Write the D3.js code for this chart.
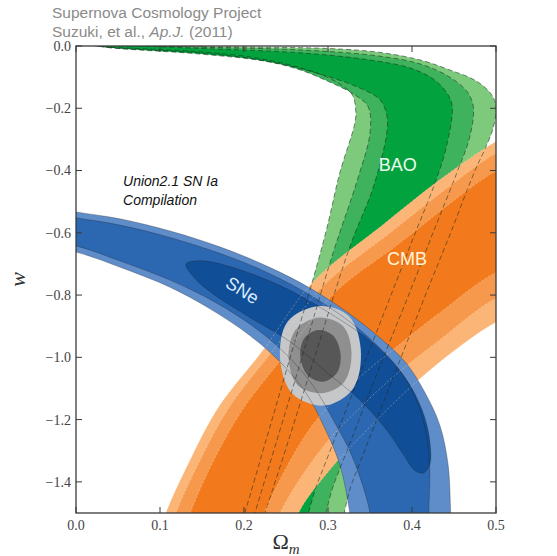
<!DOCTYPE html>
<html>
<head>
<meta charset="utf-8">
<script src="https://cdn.jsdelivr.net/npm/d3@7"></script>
<style>
  html, body { margin: 0; padding: 0; background: #fff; }
  svg { display: block; }
</style>
</head>
<body>
<svg id="chart" width="557" height="556"></svg>
<script>
// Confidence contours in the (Omega_m, w) plane, each a closed outline of [Omega_m, w] points.
// BAO bands (99.7%, 95%, 68%): upper/right edge first, then lower/left edge back up.
const bao997 = [[0.015,0.004],[0.15,-0.002],[0.30,-0.008],[0.36,-0.02],[0.41,-0.045],[0.445,-0.077],[0.475,-0.11],[0.493,-0.15],[0.5,-0.19],[0.497,-0.26],[0.487,-0.33],[0.475,-0.40],[0.446,-0.6],[0.416,-0.8],[0.387,-1.0],[0.358,-1.2],[0.329,-1.4],[0.300,-1.6],
  [0.19,-1.6],[0.201,-1.5],[0.228,-1.25],[0.255,-1.0],[0.282,-0.751],[0.299,-0.581],[0.314,-0.408],[0.332,-0.247],[0.333,-0.206],[0.329,-0.157],[0.314,-0.122],[0.290,-0.090],[0.255,-0.061],[0.207,-0.035],[0.148,-0.019],[0.088,-0.01],[0.03,-0.002]];
const bao95 = [[0.02,0.004],[0.15,-0.004],[0.27,-0.013],[0.36,-0.032],[0.41,-0.058],[0.445,-0.1],[0.466,-0.148],[0.473,-0.196],[0.469,-0.29],[0.453,-0.41],[0.425,-0.6],[0.396,-0.8],[0.366,-1.0],[0.337,-1.2],[0.308,-1.4],[0.278,-1.6],
  [0.202,-1.6],[0.213,-1.5],[0.241,-1.25],[0.269,-1.0],[0.306,-0.665],[0.335,-0.43],[0.35,-0.279],[0.348,-0.196],[0.332,-0.157],[0.302,-0.116],[0.267,-0.077],[0.219,-0.045],[0.148,-0.022],[0.035,-0.004]];
const bao68 = [[0.025,0.003],[0.15,-0.008],[0.267,-0.022],[0.35,-0.045],[0.398,-0.071],[0.427,-0.109],[0.443,-0.157],[0.448,-0.196],[0.44,-0.334],[0.426,-0.45],[0.404,-0.6],[0.375,-0.8],[0.346,-1.0],[0.317,-1.2],[0.288,-1.4],[0.258,-1.6],
  [0.213,-1.6],[0.225,-1.5],[0.255,-1.25],[0.284,-1.0],[0.326,-0.645],[0.354,-0.453],[0.370,-0.279],[0.370,-0.222],[0.362,-0.173],[0.338,-0.135],[0.290,-0.09],[0.231,-0.051],[0.148,-0.026],[0.04,-0.005]];

// CMB bands: upper-left edge from the bottom up to the right, then lower-right edge back down.
const cmb997 = [[0.095,-1.6],[0.107,-1.5],[0.136,-1.329],[0.170,-1.159],[0.223,-0.976],[0.282,-0.758],[0.365,-0.575],[0.433,-0.43],[0.501,-0.305],[0.54,-0.255],
  [0.54,-0.85],[0.501,-0.886],[0.433,-1.015],[0.386,-1.127],[0.344,-1.240],[0.302,-1.362],[0.265,-1.5],[0.255,-1.6]];
const cmb95 = [[0.107,-1.6],[0.119,-1.5],[0.148,-1.329],[0.182,-1.162],[0.233,-0.983],[0.293,-0.774],[0.374,-0.6],[0.440,-0.46],[0.501,-0.343],[0.54,-0.30],
  [0.54,-0.78],[0.501,-0.809],[0.433,-0.944],[0.383,-1.05],[0.338,-1.162],[0.293,-1.291],[0.243,-1.5],[0.232,-1.6]];
const cmb68 = [[0.124,-1.6],[0.136,-1.5],[0.163,-1.336],[0.198,-1.169],[0.249,-0.992],[0.308,-0.793],[0.386,-0.632],[0.448,-0.50],[0.501,-0.40],[0.54,-0.36],
  [0.54,-0.70],[0.501,-0.726],[0.433,-0.857],[0.380,-0.970],[0.326,-1.092],[0.279,-1.227],[0.224,-1.5],[0.212,-1.6]];

// Union2.1 supernova bands: upper edge left to right, then lower edge back.
const sne997 = [[-0.05,-0.51],[0,-0.533],[0.052,-0.555],[0.113,-0.595],[0.171,-0.645],[0.219,-0.697],[0.267,-0.76],[0.314,-0.838],[0.355,-0.922],[0.392,-1.015],[0.415,-1.111],[0.433,-1.217],[0.443,-1.345],[0.446,-1.5],[0.447,-1.6],
  [0.33,-1.6],[0.326,-1.5],[0.314,-1.345],[0.296,-1.227],[0.273,-1.111],[0.243,-1.015],[0.207,-0.93],[0.160,-0.845],[0.112,-0.775],[0.052,-0.71],[0,-0.662],[-0.05,-0.64]];
const sne95 = [[-0.05,-0.53],[0,-0.552],[0.052,-0.575],[0.113,-0.616],[0.171,-0.666],[0.219,-0.717],[0.267,-0.782],[0.314,-0.862],[0.352,-0.945],[0.385,-1.04],[0.404,-1.13],[0.416,-1.23],[0.421,-1.35],[0.42,-1.5],[0.42,-1.6],
  [0.352,-1.6],[0.35,-1.5],[0.329,-1.32],[0.306,-1.2],[0.282,-1.09],[0.25,-0.99],[0.213,-0.905],[0.165,-0.822],[0.112,-0.752],[0.052,-0.69],[0,-0.642],[-0.05,-0.62]];
const sne68 = [[0.131,-0.7],[0.15,-0.69],[0.185,-0.71],[0.245,-0.772],[0.302,-0.858],[0.356,-0.96],[0.392,-1.066],[0.412,-1.169],[0.421,-1.265],[0.421,-1.345],[0.413,-1.372],[0.402,-1.36],[0.39,-1.313],[0.368,-1.227],[0.338,-1.137],[0.302,-1.056],[0.255,-0.95],[0.207,-0.872],[0.165,-0.8],[0.141,-0.745]];

// Combined SNe + BAO + CMB constraint.
const comb997 = [[0.29,-0.835],[0.325,-0.868],[0.339,-0.975],[0.33,-1.1],[0.296,-1.155],[0.258,-1.118],[0.243,-1.005],[0.252,-0.885]];
const comb95 = [[0.29,-0.872],[0.318,-0.9],[0.328,-0.985],[0.319,-1.08],[0.293,-1.115],[0.264,-1.09],[0.253,-1.0],[0.262,-0.91]];
const comb68 = [[0.288,-0.912],[0.306,-0.93],[0.315,-0.99],[0.311,-1.048],[0.295,-1.078],[0.276,-1.058],[0.267,-0.996],[0.272,-0.938]];

// Axis ticks and annotations.
const xTicks = [0.0, 0.1, 0.2, 0.3, 0.4, 0.5];
const yTicks = [0.0, -0.2, -0.4, -0.6, -0.8, -1.0, -1.2, -1.4];
const titleLines = ["Supernova Cosmology Project", "Suzuki, et al., ", "Ap.J.", " (2011)"];
const bandLabels = [
  {text: "BAO", om: 0.383, w: -0.382, fill: "#eefcee", angle: 0},
  {text: "CMB", om: 0.394, w: -0.685, fill: "#fff3d6", angle: 0},
  {text: "SNe", om: 0.198, w: -0.785, fill: "#dcecff", angle: 32}
];
const compilationLabel = ["Union2.1 SN Ia", "Compilation"];

const svg = d3.select("#chart");
const x = d3.scaleLinear().domain([0, 0.5]).range([76, 496]);
const y = d3.scaleLinear().domain([-1.5, 0]).range([513, 46]);

svg.append("defs").append("clipPath").attr("id", "plotClip")
  .append("rect").attr("x", x(0)).attr("y", y(0))
  .attr("width", x(0.5) - x(0)).attr("height", y(-1.5) - y(0));

const closed = d3.line().x(d => x(d[0])).y(d => y(d[1])).curve(d3.curveCatmullRomClosed.alpha(0.5));

const plot = svg.append("g").attr("clip-path", "url(#plotClip)");

const layers = [
  {name: "bao", shapes: [bao997, bao95, bao68], colors: ["#7dca7d", "#3eb25c", "#02a23e"]},
  {name: "cmb", shapes: [cmb997, cmb95, cmb68], colors: ["#fbb577", "#f6994c", "#f27a1c"]},
  {name: "sne", shapes: [sne997, sne95, sne68], colors: ["#5e8dca", "#2c67b1", "#104e98"]},
  {name: "comb", shapes: [comb997, comb95, comb68], colors: ["#c6c7c9", "#8f8f90", "#575757"]}
];

layers.forEach(L => {
  const g = plot.append("g").attr("class", L.name);
  L.shapes.forEach((s, i) => {
    g.append("path").attr("d", closed(s)).attr("fill", L.colors[i]).attr("stroke", "none");
  });
});

// Contour outlines drawn over the filled regions
const outl = plot.append("g").attr("class", "outlines");
[bao997, bao95, bao68].forEach(s => {
  outl.append("path").attr("d", closed(s)).attr("fill", "none")
    .attr("stroke", "#1e2a1e").attr("stroke-width", 1).attr("stroke-dasharray", "5,3")
    .attr("stroke-opacity", 0.55);
});
[sne997, sne95, sne68].forEach(s => {
  outl.append("path").attr("d", closed(s)).attr("fill", "none")
    .attr("stroke", "#222").attr("stroke-width", 0.7).attr("stroke-opacity", 0.45);
});
[cmb997, cmb95, cmb68].forEach(s => {
  outl.append("path").attr("d", closed(s)).attr("fill", "none")
    .attr("stroke", "#ffe2c0").attr("stroke-width", 0.8).attr("stroke-dasharray", "2,2")
    .attr("stroke-opacity", 0.45);
});

// Band labels
bandLabels.forEach(b => {
  svg.append("text")
    .attr("transform", `translate(${x(b.om)},${y(b.w)}) rotate(${b.angle})`)
    .attr("text-anchor", "middle").attr("dominant-baseline", "central")
    .attr("font-family", "Liberation Sans, Arial, sans-serif").attr("font-size", 18)
    .attr("fill", b.fill).text(b.text);
});

const comp = svg.append("text")
  .attr("font-family", "Liberation Sans, Arial, sans-serif").attr("font-size", 14)
  .attr("font-style", "italic").attr("fill", "#111");
compilationLabel.forEach((t, i) => {
  comp.append("tspan").attr("x", x(0.056)).attr("y", y(-0.45) + i * 19).text(t);
});

// Frame
svg.append("rect").attr("x", x(0)).attr("y", y(0))
  .attr("width", x(0.5) - x(0)).attr("height", y(-1.5) - y(0))
  .attr("fill", "none").attr("stroke", "#3a3a3a").attr("stroke-width", 1.3);

// Inward ticks on all four sides
const tickLen = 6;
const tk = svg.append("g").attr("stroke", "#3a3a3a").attr("stroke-width", 1);
xTicks.forEach(v => {
  tk.append("line").attr("x1", x(v)).attr("x2", x(v)).attr("y1", y(-1.5)).attr("y2", y(-1.5) - tickLen);
  tk.append("line").attr("x1", x(v)).attr("x2", x(v)).attr("y1", y(0)).attr("y2", y(0) + tickLen);
});
yTicks.forEach(v => {
  tk.append("line").attr("x1", x(0)).attr("x2", x(0) + tickLen).attr("y1", y(v)).attr("y2", y(v));
  tk.append("line").attr("x1", x(0.5)).attr("x2", x(0.5) - tickLen).attr("y1", y(v)).attr("y2", y(v));
});

const fmt = v => (v < 0 ? "\u2212" : "") + Math.abs(v).toFixed(1);
const serif = "Liberation Serif, DejaVu Serif, serif";
svg.append("g").selectAll("text").data(xTicks).join("text")
  .attr("x", d => x(d)).attr("y", y(-1.5) + 17)
  .attr("text-anchor", "middle").attr("font-family", serif).attr("font-size", 14)
  .attr("fill", "#444").text(fmt);
svg.append("g").selectAll("text").data(yTicks).join("text")
  .attr("x", x(0) - 5).attr("y", d => y(d)).attr("dy", "0.35em")
  .attr("text-anchor", "end").attr("font-family", serif).attr("font-size", 14)
  .attr("fill", "#444").text(fmt);

// Axis titles
const xl = svg.append("text").attr("x", (x(0) + x(0.5)) / 2).attr("y", 549)
  .attr("text-anchor", "middle").attr("font-family", serif).attr("font-size", 22).attr("fill", "#333");
xl.append("tspan").text("\u03A9");
xl.append("tspan").attr("font-style", "italic").attr("font-size", 15).attr("dy", 5).text("m");

svg.append("text").attr("transform", `translate(25,${(y(0) + y(-1.5)) / 2}) rotate(-90)`)
  .attr("text-anchor", "middle").attr("font-family", serif).attr("font-style", "italic")
  .attr("font-size", 22).attr("fill", "#333").text("w");

// Title block
const sans = "Liberation Sans, Arial, sans-serif";
svg.append("text").attr("x", 52).attr("y", 18).attr("font-family", sans).attr("font-size", 15.5)
  .attr("fill", "#8a8a8a").text(titleLines[0]);
const t2 = svg.append("text").attr("x", 52).attr("y", 37).attr("font-family", sans).attr("font-size", 15.5)
  .attr("fill", "#8a8a8a");
t2.append("tspan").text(titleLines[1]);
t2.append("tspan").attr("font-style", "italic").text(titleLines[2]);
t2.append("tspan").text(titleLines[3]);
</script>
</body>
</html>
